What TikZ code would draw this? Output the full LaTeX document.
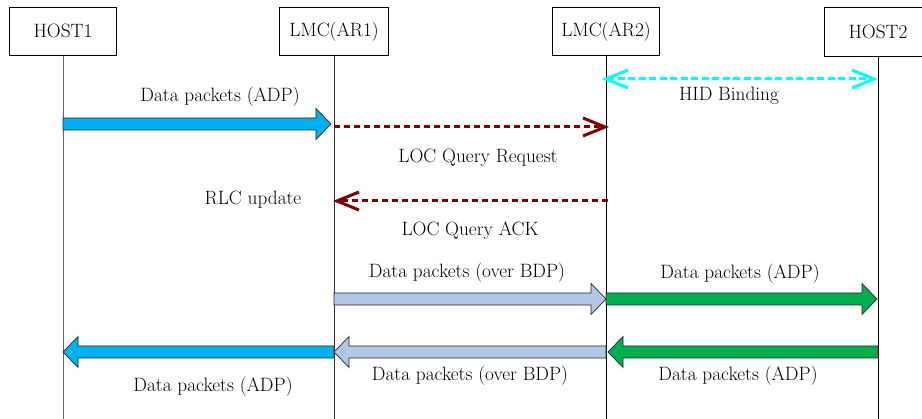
\documentclass[tikz,border=0pt]{standalone}
\usepackage{fontspec}
\usetikzlibrary{arrows.meta,calc}
\definecolor{adpblue}{HTML}{00B0F0}
\definecolor{bdpgray}{HTML}{B4C7E7}
\definecolor{adpgreen}{HTML}{00B050}
\definecolor{locred}{HTML}{800000}
\definecolor{hidcyan}{HTML}{00FFFF}
\newcommand\blkarrow[4]{%
  \draw[blk,fill=#4] let \p1=(#1), \p2=(#2), \n1={ifthenelse(\x2>\x1,15,-15)} in
    (\x1,{-#3+6}) -- ({\x2-\n1},{-#3+6}) -- ({\x2-\n1},{-#3+15.5}) -- (\x2,{-#3})
    -- ({\x2-\n1},{-#3-15.5}) -- ({\x2-\n1},{-#3-6}) -- (\x1,{-#3-6}) -- cycle;}
\begin{document}
\begin{tikzpicture}[x=1pt,y=1pt,
  every node/.style={font=\fontsize{19.3}{22}\selectfont,inner sep=0pt},
  actor/.style={draw,line width=0.8pt,minimum width=107pt,minimum height=48pt,anchor=north},
  life/.style={line width=0.8pt},
  blk/.style={draw=black!85,line width=0.7pt},
  locarrow/.style={locred,line width=3pt,dash pattern=on 6pt off 4pt,
    -{Straight Barb[length=22pt,width=18pt,line width=3pt]}},
  hidarrow/.style={hidcyan,line width=3pt,dash pattern=on 7pt off 3.5pt,
    {Straight Barb[length=22pt,width=18pt,line width=3pt]}-{Straight Barb[length=22pt,width=18pt,line width=3pt]}}]
\useasboundingbox (0,0) rectangle (922,-419);
% actors
\node[actor] (host1) at (63,-7) {HOST1};
\node[actor,minimum width=109pt] (ar1) at (334,-7) {LMC(AR1)};
\node[actor] (ar2) at (606,-7) {LMC(AR2)};
\node[actor,minimum height=49pt,minimum width=108pt] (host2) at (878,-7) {HOST2};
% lifelines
\coordinate (h1end) at (63,-419);
\coordinate (a1end) at (334,-419);
\coordinate (a2end) at (606,-419);
\coordinate (h2end) at (878,-419);
\draw[life,black!60] (host1.south) -- (h1end);
\draw[life,black!80] (ar1.south) -- (a1end);
\draw[life] (ar2.south) -- (a2end);
\draw[life] (host2.south) -- (h2end);
% lifeline reference coordinates
\coordinate (H1) at (63,0);
\coordinate (A1) at (334,0);
\coordinate (A1t) at (331,0);
\coordinate (A2) at (606,0);
\coordinate (A2r) at (608,0);
\coordinate (H2) at (878,0);
\coordinate (H2t) at (877,0);
% HID binding
\coordinate (hidL) at (602,-79);
\coordinate (hidR) at (878,-79);
\draw[hidarrow] (hidL) -- (hidR);
\node (hidlbl) at (729,-96) {HID Binding};
% data packets host1 -> ar1
\blkarrow{H1}{A1t}{124}{adpblue}
\node (d1) at (220,-97) {Data packets (ADP)};
% LOC query request
\coordinate (lq1s) at (334,-127);
\coordinate (lq1e) at (609,-127);
\draw[locarrow] (lq1s) -- (lq1e);
\node (lqr) at (478,-158) {LOC Query Request};
% LOC query ACK
\coordinate (lq2s) at (608,-201);
\coordinate (lq2e) at (333,-201);
\draw[locarrow] (lq2s) -- (lq2e);
\node (rlc) at (253,-200) {RLC update};
\node (lqa) at (470,-231) {LOC Query ACK};
% forward data
\blkarrow{A1}{A2}{299}{bdpgray}
\blkarrow{A2}{H2t}{299}{adpgreen}
\node (d2) at (467,-273) {Data packets (over BDP)};
\node (d3) at (740,-274) {Data packets (ADP)};
% return data
\blkarrow{H2}{A2r}{352}{adpgreen}
\blkarrow{A2}{A1}{352}{bdpgray}
\blkarrow{A1}{H1}{352}{adpblue}
\node (d4) at (738,-376) {Data packets (ADP)};
\node (d5) at (470,-376) {Data packets (over BDP)};
\node (d6) at (213,-387) {Data packets (ADP)};
\end{tikzpicture}
\end{document}
